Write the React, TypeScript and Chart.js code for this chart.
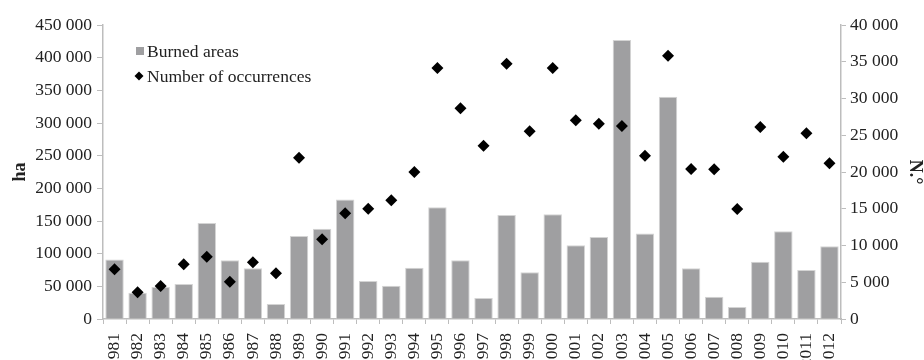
import { useEffect, useRef } from 'react';
import { Chart, registerables } from 'chart.js';

Chart.register(...registerables);

const years = [
  '1981', '1982', '1983', '1984', '1985', '1986', '1987', '1988', '1989', '1990',
  '1991', '1992', '1993', '1994', '1995', '1996', '1997', '1998', '1999', '2000',
  '2001', '2002', '2003', '2004', '2005', '2006', '2007', '2008', '2009', '2010',
  '2011', '2012',
];

const burnedAreas = [
  91000, 40000, 49000, 53500, 147000, 90000, 77500, 23000, 127000, 138000,
  183000, 58000, 51000, 78500, 171000, 90000, 32000, 159000, 71500, 160500,
  113000, 125500, 427000, 131000, 340000, 77500, 34000, 18500, 87500, 134500,
  75000, 111500,
];

const occurrences = [
  6760, 3630, 4490, 7440, 8480, 5080, 7710, 6210, 21950, 10840,
  14380, 15010, 16150, 20000, 34150, 28660, 23580, 34740, 25530, 34150,
  27030, 26580, 26260, 22220, 35820, 20410, 20360, 14970, 26120, 22090,
  25270, 21190,
];

const legendLabels = ['Burned areas', 'Number of occurrences'];
const leftAxisTitle = 'ha';
const rightAxisTitle = 'N.°';
const leftMax = 450000;
const leftStep = 50000;
const rightMax = 40000;
const rightStep = 5000;

const FONT = "'Liberation Serif', 'Times New Roman', serif";
const BAR_COLOR = '#9f9fa1';
const AXIS_COLOR = '#bdbdbd';
const TEXT_COLOR = '#222222';

const fmt = (v: number) => String(v).replace(/\B(?=(\d{3})+(?!\d))/g, ' ');

const legendPlugin = {
  id: 'insideLegend',
  afterDraw(chart: any) {
    const { ctx, chartArea } = chart;
    const x0 = chartArea.left + 33;
    const y0 = chartArea.top + 26;
    ctx.save();
    ctx.fillStyle = BAR_COLOR;
    ctx.fillRect(x0, y0 - 4, 8, 8);
    const dy = y0 + 25;
    const cx = x0 + 3;
    const r = 4.5;
    ctx.fillStyle = '#000';
    ctx.beginPath();
    ctx.moveTo(cx - r, dy);
    ctx.lineTo(cx, dy - r);
    ctx.lineTo(cx + r, dy);
    ctx.lineTo(cx, dy + r);
    ctx.closePath();
    ctx.fill();
    ctx.fillStyle = TEXT_COLOR;
    ctx.font = `17.5px ${FONT}`;
    ctx.textBaseline = 'alphabetic';
    ctx.textAlign = 'left';
    ctx.fillText(legendLabels[0], x0 + 11, y0 + 6);
    ctx.fillText(legendLabels[1], x0 + 11, dy + 6);
    ctx.restore();
  },
};

export default function App() {
  const canvasRef = useRef<HTMLCanvasElement | null>(null);

  useEffect(() => {
    document.body.style.margin = '0';
    const canvas = canvasRef.current;
    if (!canvas) return;
    const CANVAS_H = 380;
    const chart = new Chart(canvas, {
      type: 'bar',
      data: {
        labels: years,
        datasets: [
          {
            type: 'line',
            label: legendLabels[1],
            data: occurrences,
            yAxisID: 'y2',
            showLine: false,
            pointStyle: 'rectRot',
            pointRadius: 6,
            pointBackgroundColor: '#000',
            pointBorderColor: '#000',
            pointBorderWidth: 0,
            order: 1,
          } as any,
          {
            type: 'bar',
            label: legendLabels[0],
            data: burnedAreas,
            yAxisID: 'y',
            backgroundColor: BAR_COLOR,
            borderColor: '#d4d4d4',
            borderWidth: 1,
            barPercentage: 0.8,
            categoryPercentage: 1,
            order: 2,
          },
        ],
      },
      options: {
        responsive: false,
        animation: false,
        devicePixelRatio: 1,
        layout: { padding: { top: 25, left: 0, right: 0, bottom: 0 } },
        plugins: {
          legend: { display: false },
          tooltip: { enabled: false },
        },
        scales: {
          x: {
            offset: true,
            grid: { offset: true, drawOnChartArea: false, tickLength: 5, color: AXIS_COLOR, lineWidth: 1 },
            border: { color: AXIS_COLOR, width: 1.5 },
            ticks: {
              autoSkip: false,
              minRotation: 90,
              maxRotation: 90,
              padding: 9,
              color: TEXT_COLOR,
              font: { family: FONT, size: 17.5 },
            },
            afterFit: (s: any) => { s.height = CANVAS_H - 319; },
          },
          y: {
            position: 'left',
            min: 0,
            max: leftMax,
            grid: { drawOnChartArea: false, tickLength: 6, color: AXIS_COLOR, lineWidth: 1 },
            border: { color: AXIS_COLOR, width: 1.5 },
            ticks: {
              stepSize: leftStep,
              padding: 5,
              color: TEXT_COLOR,
              font: { family: FONT, size: 17.5 },
              callback: (v: any) => fmt(Number(v)),
            },
            title: {
              display: true,
              text: leftAxisTitle,
              color: TEXT_COLOR,
              font: { family: FONT, size: 18, weight: 'bold', lineHeight: 1 },
              padding: { top: 11, bottom: 0 },
            },
            afterFit: (s: any) => { s.width = 103; },
          },
          y2: {
            position: 'right',
            min: 0,
            max: rightMax,
            grid: { drawOnChartArea: false, tickLength: 5, color: AXIS_COLOR, lineWidth: 1 },
            border: { color: AXIS_COLOR, width: 1.5 },
            ticks: {
              stepSize: rightStep,
              padding: 4,
              color: TEXT_COLOR,
              font: { family: FONT, size: 17.5 },
              callback: (v: any) => fmt(Number(v)),
            },
            title: {
              display: true,
              text: rightAxisTitle,
              color: TEXT_COLOR,
              font: { family: FONT, size: 18, weight: 'bold', lineHeight: 1 },
              padding: { top: 0, bottom: 0 },
            },
            afterFit: (s: any) => { s.width = 83; },
          },
        },
      } as any,
      plugins: [legendPlugin],
    });
    return () => chart.destroy();
  }, []);

  return (
    <div style={{ width: 924, height: 360, overflow: 'hidden', position: 'relative' }}>
      <canvas ref={canvasRef} width={924} height={380} style={{ display: 'block', width: 924, height: 380 }} />
    </div>
  );
}
